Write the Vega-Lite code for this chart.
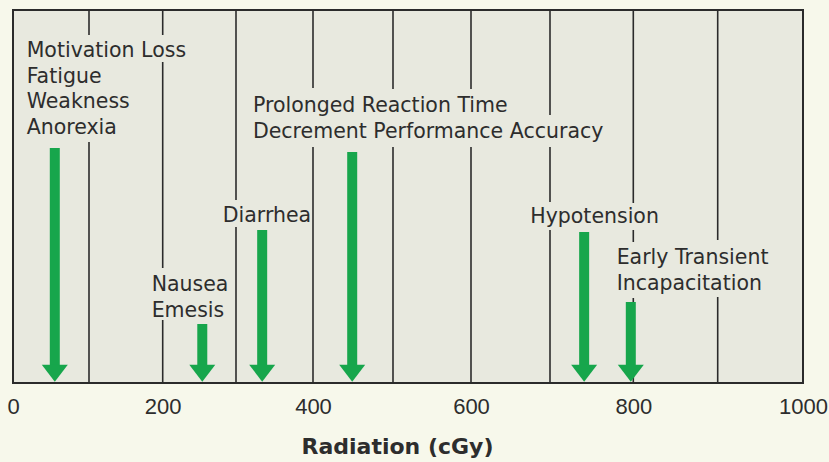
{
  "$schema": "https://vega.github.io/schema/vega-lite/v6.json",
  "width": 790,
  "height": 373,
  "autosize": "none",
  "padding": {"left": 13, "top": 10, "right": 26, "bottom": 79},
  "background": "#f7f8eb",
  "config": {
    "view": {"fill": "#e8e9df", "stroke": "#2b2b2b", "strokeWidth": 2}
  },
  "datasets": {
    "grid": [
      {"dose": 100, "from": 373, "to": 348}, {"dose": 100, "from": 241, "to": 0},
      {"dose": 200, "from": 373, "to": 348}, {"dose": 200, "from": 321, "to": 115}, {"dose": 200, "from": 63, "to": 0},
      {"dose": 300, "from": 373, "to": 183}, {"dose": 300, "from": 156, "to": 0},
      {"dose": 400, "from": 373, "to": 295}, {"dose": 400, "from": 236, "to": 0},
      {"dose": 500, "from": 373, "to": 294}, {"dose": 500, "from": 236, "to": 0},
      {"dose": 600, "from": 373, "to": 294}, {"dose": 600, "from": 236, "to": 0},
      {"dose": 700, "from": 373, "to": 268}, {"dose": 700, "from": 236, "to": 181}, {"dose": 700, "from": 153, "to": 0},
      {"dose": 800, "from": 373, "to": 180}, {"dose": 800, "from": 153, "to": 141}, {"dose": 800, "from": 85, "to": 0},
      {"dose": 900, "from": 373, "to": 143}, {"dose": 900, "from": 86, "to": 0}
    ],
    "effects": [
      {"effect": "Motivation Loss\nFatigue\nWeakness\nAnorexia", "dose": 55, "level": 235, "labelDose": 18, "labelLevel": 326},
      {"effect": "Nausea\nEmesis", "dose": 254, "level": 59, "labelDose": 185, "labelLevel": 92},
      {"effect": "Diarrhea", "dose": 334, "level": 153, "labelDose": 282, "labelLevel": 161},
      {"effect": "Prolonged Reaction Time\nDecrement Performance Accuracy", "dose": 449, "level": 231, "labelDose": 322, "labelLevel": 271},
      {"effect": "Hypotension", "dose": 741, "level": 151, "labelDose": 675, "labelLevel": 160},
      {"effect": "Early Transient\nIncapacitation", "dose": 797, "level": 81, "labelDose": 780, "labelLevel": 119}
    ]
  },
  "layer": [
    {
      "data": {"name": "grid"},
      "mark": {"type": "rule", "color": "#2b2b2b", "strokeWidth": 1.6},
      "encoding": {
        "x": {
          "field": "dose", "type": "quantitative",
          "scale": {"type": "linear", "domain": [0, 100, 200, 300, 400, 500, 600, 700, 800, 900, 1000], "range": [0, 76, 149.7, 223, 300, 380, 458, 537, 620.3, 704.7, 790]},
          "axis": {
            "title": "Radiation (cGy)",
            "values": [0, 200, 400, 600, 800, 1000],
            "format": "d",
            "grid": false, "ticks": false, "tickSize": 0, "domain": false,
            "labelFont": "Liberation Sans", "labelFontSize": 22, "labelColor": "#2d2d2d",
            "labelPadding": 13, "labelFlush": false, "labelOverlap": false,
            "titleFont": "DejaVu Sans", "titleFontWeight": "bold", "titleFontSize": 22,
            "titleColor": "#2d2d2d", "titleX": 384, "titleY": 70,
            "titleAlign": "center", "titleBaseline": "alphabetic"
          }
        },
        "y": {"field": "from", "type": "quantitative", "scale": {"domain": [0, 373], "nice": false, "zero": true}, "axis": null},
        "y2": {"field": "to"}
      }
    },
    {
      "data": {"name": "effects"},
      "mark": {"type": "rule", "color": "#17a64c", "strokeWidth": 10, "strokeCap": "butt"},
      "encoding": {
        "x": {"field": "dose", "type": "quantitative"},
        "y": {"field": "level", "type": "quantitative"},
        "y2": {"datum": 14}
      }
    },
    {
      "data": {"name": "effects"},
      "mark": {"type": "point", "shape": "M-1,-1.31L1,-1.31L0,0Z", "size": 676, "filled": true, "color": "#17a64c", "opacity": 1, "strokeWidth": 0},
      "encoding": {
        "x": {"field": "dose", "type": "quantitative"},
        "y": {"datum": 1.3, "type": "quantitative"}
      }
    },
    {
      "data": {"name": "effects"},
      "mark": {"type": "text", "font": "DejaVu Sans", "fontSize": 20.5, "color": "#2d2d2d", "align": "left", "baseline": "alphabetic", "lineBreak": "\n", "lineHeight": 25.5},
      "encoding": {
        "x": {"field": "labelDose", "type": "quantitative"},
        "y": {"field": "labelLevel", "type": "quantitative"},
        "text": {"field": "effect", "type": "nominal"}
      }
    }
  ]
}
